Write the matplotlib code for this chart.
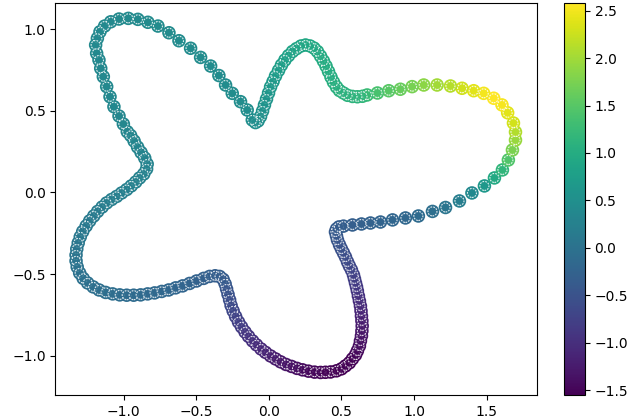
import numpy as np
import matplotlib
matplotlib.use('Agg')
from matplotlib import pyplot as plt

# points along the closed curve, in drawing order

# bottom arm, right side, going up to the corner
br_x = [0.425, 0.466, 0.500, 0.528, 0.555, 0.576, 0.597, 0.610, 0.624, 0.631, 0.638, 0.641,
        0.643, 0.641, 0.638, 0.635, 0.631, 0.624, 0.617, 0.610, 0.604, 0.597, 0.590, 0.583,
        0.569, 0.555, 0.542, 0.528, 0.514, 0.500, 0.487, 0.473, 0.466, 0.459, 0.466, 0.483]
br_y = [-1.099, -1.092, -1.080, -1.062, -1.043, -1.019, -0.995, -0.970, -0.940, -0.909, -0.878, -0.848,
        -0.817, -0.786, -0.756, -0.725, -0.695, -0.664, -0.634, -0.603, -0.578, -0.554, -0.529, -0.505,
        -0.474, -0.450, -0.425, -0.395, -0.370, -0.346, -0.321, -0.291, -0.266, -0.242, -0.224, -0.211]
br_c = [-1.52, -1.54, -1.55, -1.55, -1.54, -1.52, -1.49, -1.46, -1.42, -1.38, -1.34, -1.30,
        -1.26, -1.22, -1.17, -1.12, -1.07, -1.02, -0.97, -0.92, -0.87, -0.83, -0.79, -0.75,
        -0.71, -0.67, -0.63, -0.59, -0.55, -0.51, -0.48, -0.45, -0.42, -0.39, -0.37, -0.35]

# sparse arm to the right
ra_x = [0.514, 0.576, 0.638, 0.700, 0.769, 0.852, 0.941, 1.030, 1.127, 1.217, 1.313, 1.399,
        1.485, 1.554, 1.609, 1.650, 1.678, 1.699, 1.699, 1.685]
ra_y = [-0.206, -0.199, -0.193, -0.187, -0.181, -0.168, -0.156, -0.144, -0.116, -0.092, -0.052, -0.003,
        0.040, 0.089, 0.138, 0.199, 0.260, 0.321, 0.370, 0.425]
ra_c = [-0.33, -0.31, -0.29, -0.27, -0.24, -0.21, -0.17, -0.12, -0.05, 0.05, 0.20, 0.40,
        0.65, 0.95, 1.15, 1.45, 1.75, 1.95, 2.10, 2.30]

# upper right arc
ta_x = [1.645, 1.606, 1.549, 1.480, 1.411, 1.331, 1.251, 1.159, 1.067, 0.987, 0.906, 0.826, 0.748, 0.677]
ta_y = [0.488, 0.536, 0.577, 0.607, 0.623, 0.638, 0.652, 0.658, 0.658, 0.648, 0.632, 0.623, 0.609, 0.597]
ta_c = [2.40, 2.52, 2.58, 2.50, 2.40, 2.28, 2.12, 2.00, 1.87, 1.74, 1.62, 1.50, 1.38, 1.27]

# wiggle over the top and down into the V
wg_x = [0.645, 0.610, 0.576, 0.542, 0.514, 0.487, 0.466, 0.445, 0.428, 0.411, 0.394, 0.376,
        0.356, 0.335, 0.311, 0.284, 0.253, 0.222, 0.191, 0.163, 0.136, 0.111, 0.087, 0.067,
        0.046, 0.029, 0.012, -0.002, -0.016, -0.030, -0.043, -0.057, -0.074]
wg_y = [0.589, 0.586, 0.588, 0.595, 0.609, 0.624, 0.646, 0.676, 0.707, 0.741, 0.774, 0.805,
        0.835, 0.863, 0.884, 0.897, 0.903, 0.897, 0.881, 0.863, 0.838, 0.811, 0.780, 0.747,
        0.713, 0.679, 0.646, 0.609, 0.572, 0.536, 0.499, 0.465, 0.438]
wg_c = [1.17, 1.14, 1.12, 1.10, 1.09, 1.08, 1.06, 1.05, 1.03, 1.02, 1.00, 0.99,
        0.98, 0.96, 0.95, 0.93, 0.92, 0.90, 0.88, 0.85, 0.83, 0.80, 0.77, 0.75,
        0.72, 0.69, 0.67, 0.64, 0.61, 0.59, 0.56, 0.53, 0.50]

# upper left lobe
tl_x = [-0.092, -0.114, -0.149, -0.195, -0.252, -0.298, -0.344, -0.401, -0.470, -0.539, -0.619, -0.688,
        -0.764, -0.833, -0.902, -0.968, -1.032, -1.089, -1.131, -1.163, -1.181, -1.193, -1.186, -1.170,
        -1.158, -1.140, -1.117, -1.094, -1.067, -1.032, -1.002, -0.975]
tl_y = [0.428, 0.444, 0.505, 0.556, 0.607, 0.658, 0.716, 0.774, 0.827, 0.883, 0.929, 0.978,
        1.019, 1.042, 1.060, 1.066, 1.062, 1.045, 1.019, 0.984, 0.944, 0.903, 0.852, 0.811,
        0.760, 0.709, 0.648, 0.586, 0.525, 0.468, 0.419, 0.372]
tl_c = [0.49, 0.48, 0.47, 0.46, 0.46, 0.45, 0.45, 0.44, 0.44, 0.43, 0.43, 0.42,
        0.42, 0.42, 0.41, 0.41, 0.41, 0.40, 0.40, 0.40, 0.39, 0.39, 0.39, 0.38,
        0.38, 0.38, 0.37, 0.37, 0.37, 0.36, 0.36, 0.36]

# left side, lower left lobe
ll_x = [-0.952, -0.928, -0.904, -0.880, -0.855, -0.838, -0.842, -0.862, -0.890, -0.917, -0.948, -0.979,
        -1.014, -1.048, -1.083, -1.117, -1.148, -1.179, -1.206, -1.234, -1.258, -1.282, -1.299, -1.313,
        -1.323, -1.328, -1.328, -1.320, -1.303, -1.279, -1.248, -1.210, -1.169, -1.124, -1.076, -1.027,
        -0.979, -0.931, -0.883, -0.835, -0.787, -0.738, -0.690, -0.642, -0.594, -0.546, -0.498, -0.449,
        -0.408, -0.370, -0.339, -0.315]
ll_y = [0.349, 0.315, 0.278, 0.245, 0.211, 0.174, 0.144, 0.113, 0.089, 0.064, 0.040, 0.018,
        -0.003, -0.024, -0.043, -0.064, -0.089, -0.116, -0.144, -0.174, -0.205, -0.239, -0.272, -0.309,
        -0.346, -0.383, -0.419, -0.456, -0.493, -0.526, -0.554, -0.578, -0.597, -0.612, -0.621, -0.627,
        -0.629, -0.629, -0.627, -0.621, -0.615, -0.606, -0.597, -0.584, -0.572, -0.557, -0.542, -0.526,
        -0.514, -0.510, -0.514, -0.532]
ll_c = [0.35, 0.34, 0.33, 0.32, 0.31, 0.30, 0.29, 0.28, 0.27, 0.26, 0.25, 0.24,
        0.23, 0.22, 0.21, 0.20, 0.19, 0.17, 0.15, 0.14, 0.12, 0.11, 0.10, 0.08,
        0.07, 0.05, 0.04, 0.02, 0.01, -0.01, -0.02, -0.04, -0.05, -0.06, -0.08, -0.09,
        -0.10, -0.12, -0.13, -0.14, -0.16, -0.17, -0.19, -0.20, -0.22, -0.24, -0.26, -0.28,
        -0.30, -0.32, -0.34, -0.36]

# bottom arm, left side, down to the minimum
bl_x = [-0.301, -0.291, -0.281, -0.270, -0.260, -0.246, -0.229, -0.209, -0.188, -0.164, -0.140, -0.112,
        -0.085, -0.054, -0.023, 0.012, 0.046, 0.081, 0.118, 0.156, 0.194, 0.232, 0.273, 0.315,
        0.356, 0.390]
bl_y = [-0.560, -0.591, -0.624, -0.658, -0.692, -0.725, -0.759, -0.793, -0.823, -0.854, -0.881, -0.909,
        -0.933, -0.958, -0.979, -1.001, -1.019, -1.037, -1.053, -1.065, -1.077, -1.086, -1.094, -1.100,
        -1.102, -1.101]
bl_c = [-0.40, -0.45, -0.50, -0.55, -0.60, -0.66, -0.72, -0.77, -0.82, -0.88, -0.93, -0.98,
        -1.03, -1.08, -1.13, -1.18, -1.23, -1.28, -1.32, -1.36, -1.40, -1.43, -1.46, -1.48,
        -1.50, -1.51]

x = np.concatenate([br_x, ra_x, ta_x, wg_x, tl_x, ll_x, bl_x])
y = np.concatenate([br_y, ra_y, ta_y, wg_y, tl_y, ll_y, bl_y])
c = np.concatenate([br_c, ra_c, ta_c, wg_c, tl_c, ll_c, bl_c])
vmin, vmax = c.min(), c.max()

fig = plt.figure(figsize=(6.4, 4.19), dpi=100)
ax = fig.add_axes([0.0866, 0.0573, 0.7531, 0.9355])
cax = fig.add_axes([0.881, 0.0573, 0.0328, 0.9355])

# outer disc, then inner disc with a dashed white rim
sc = ax.scatter(x, y, c=c, cmap='viridis', vmin=vmin, vmax=vmax, s=95, linewidths=0)
ax.scatter(x, y, c=c, cmap='viridis', vmin=vmin, vmax=vmax, s=42,
           edgecolors='white', linewidths=0.8, linestyles=(0, (1.6, 1.0)), alpha=0.85)

fig.colorbar(sc, cax=cax)
ax.set_xlim(-1.47, 1.85)
ax.set_ylim(-1.24, 1.16)

fig.savefig('out.png', dpi=100)
